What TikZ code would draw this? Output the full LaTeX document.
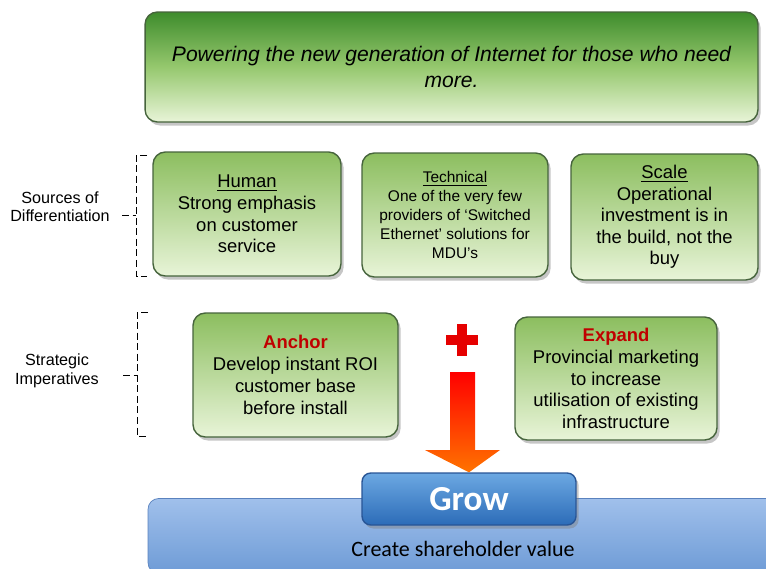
\documentclass[tikz,border=0pt]{standalone}
\usepackage{fontspec}
\setmainfont{Liberation Sans}
\newfontfamily\calibrifont{Carlito}
\usetikzlibrary{shadows,calc}
\definecolor{leafdark}{RGB}{62,140,44}
\definecolor{leafmid}{RGB}{150,200,110}
\definecolor{leaftop}{RGB}{140,190,95}
\definecolor{leafpale}{RGB}{205,230,175}
\definecolor{leaflight}{RGB}{232,244,216}
\definecolor{leafedge}{RGB}{70,100,60}
\definecolor{skytop}{RGB}{160,192,235}
\definecolor{skybot}{RGB}{110,155,214}
\definecolor{skyedge}{RGB}{90,130,190}
\definecolor{growtop}{RGB}{108,168,226}
\definecolor{growbot}{RGB}{44,108,184}
\definecolor{growedge}{RGB}{40,85,150}
\definecolor{titlered}{RGB}{192,0,0}

\begin{document}
\begin{tikzpicture}[
        x=0.02cm, y=-0.02cm,
        box/.style={rectangle, rounded corners=7pt, draw=leafedge, thick,
            top color=#1, middle color=leafpale, bottom color=leaflight, text=black,
            minimum width=3.76cm, minimum height=2.48cm,
            align=center, inner sep=2pt,
            drop shadow={opacity=0.45, shadow xshift=1.5pt, shadow yshift=-2pt}},
        sidelabel/.style={align=center, font=\fontsize{9.2}{10.5}\selectfont},
        bracket/.style={thin, dash pattern=on 4pt off 2pt}
    ]
        \useasboundingbox (0,0) rectangle (766,568);

        % top statement
        \node[box=leafdark, middle color=leafmid, minimum width=12.26cm, minimum height=2.2cm,
            font=\fontsize{12}{14.5}\selectfont\itshape] (vision) at (451.5,67)
            {Powering the new generation of Internet for those who need\\more.};

        % sources of differentiation
        \node[box=leaftop, font=\fontsize{10.5}{12.3}\selectfont] (human) at (247,214)
            {\underline{Human}\\Strong emphasis\\on customer\\service};
        \node[box=leaftop, minimum width=3.72cm, font=\fontsize{8.8}{10.7}\selectfont] (technical) at (455,215)
            {\underline{Technical}\\One of the very few\\providers of `Switched\\Ethernet' solutions for\\MDU's};
        \node[box=leaftop, minimum width=3.74cm, minimum height=2.52cm, font=\fontsize{10.5}{12.3}\selectfont] (scale) at (664.5,217)
            {\underline{Scale}\\Operational\\investment is in\\the build, not the\\buy};

        \node[sidelabel] (sources) at (60,207) {Sources of\\Differentiation};
        \draw[bracket] (147,155) -- (136,155) -- (136,276) -- (147,276);
        \draw[bracket] (122,215) -- (136,215);

        % strategic imperatives
        \node[box=leaftop, minimum width=4.1cm, font=\fontsize{10.5}{12.6}\selectfont] (anchor) at (295.5,375)
            {\textcolor{titlered}{\textbf{Anchor}}\\Develop instant ROI\\customer base\\before install};
        \node[box=leaftop, minimum width=4.04cm, minimum height=2.46cm, font=\fontsize{10.5}{12.3}\selectfont] (expand) at (616,378.5)
            {\textcolor{titlered}{\textbf{Expand}}\\Provincial marketing\\to increase\\utilisation of existing\\infrastructure};

        \node[sidelabel] (strategic) at (57,371) {Strategic\\Imperatives};
        \draw[bracket] (148,312) -- (137,312) -- (137,436) -- (148,436);
        \draw[bracket] (123,375) -- (137,375);

        % plus sign
        \coordinate (plus) at (462,340);
        \fill[red!90!black] ($(plus)+(-5,-16)$) rectangle ($(plus)+(5,16)$);
        \fill[red!90!black] ($(plus)+(-16,-5)$) rectangle ($(plus)+(16,5)$);

        % base bar and grow
        \node[rectangle, rounded corners=6pt, draw=skyedge, top color=skytop, bottom color=skybot,
            minimum width=12.8cm, minimum height=1.5cm] (bar) at (468,536) {};
        \node[font=\calibrifont\fontsize{12.5}{14}\selectfont] (value) at (463,549) {Create shareholder value};
        \node[rectangle, rounded corners=5pt, draw=growedge, thick, top color=growtop, bottom color=growbot,
            minimum width=4.28cm, minimum height=1.04cm, text=white,
            font=\calibrifont\bfseries\fontsize{20}{22}\selectfont,
            drop shadow={opacity=0.45, shadow xshift=1.5pt, shadow yshift=-2pt}] (grow) at (469,499) {Grow};

        % arrow into grow
        \coordinate (arrtop) at (462,372);
        \shade[top color=red, bottom color=orange!90!red]
            ($(arrtop)+(-12,0)$) -- ($(arrtop)+(13,0)$) -- ($(arrtop)+(13,78)$)
            -- ($(arrtop)+(38,78)$) -- (grow.north) -- ($(arrtop)+(-37,78)$)
            -- ($(arrtop)+(-12,78)$) -- cycle;
    \end{tikzpicture}
\end{document}
